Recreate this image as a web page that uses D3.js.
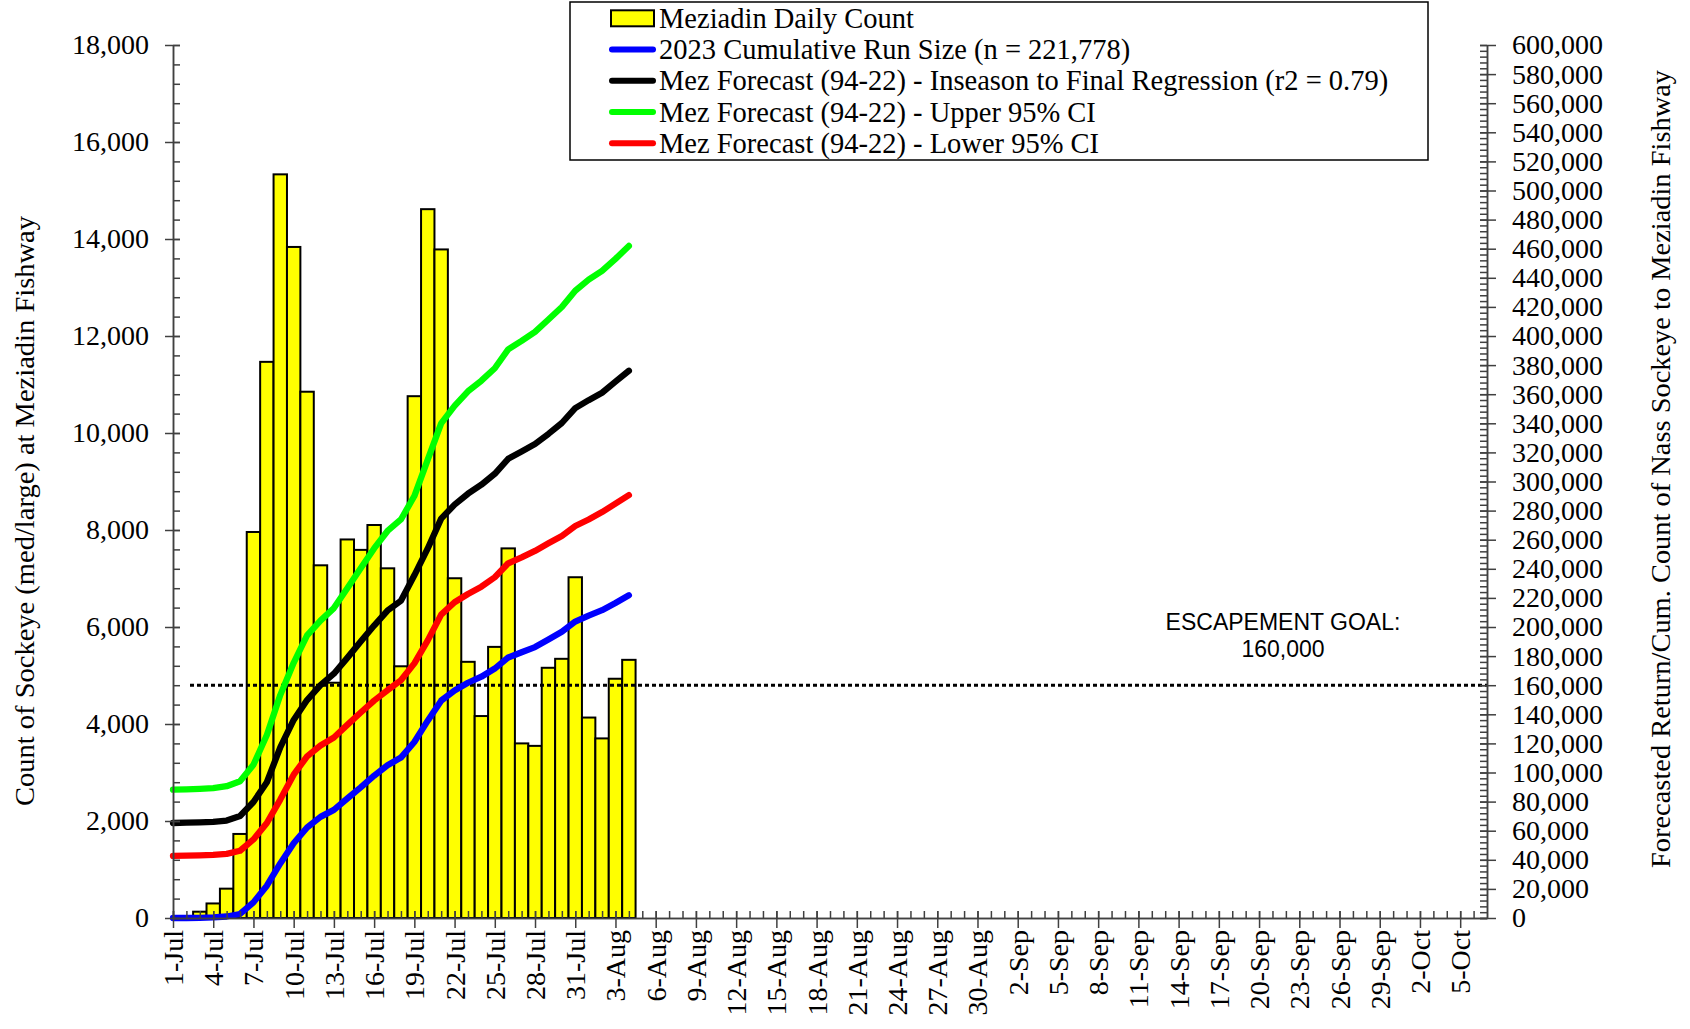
<!DOCTYPE html>
<html>
<head>
<meta charset="utf-8">
<script src="https://cdn.jsdelivr.net/npm/d3@7"></script>
<style>
  html, body { margin: 0; padding: 0; background: #fff; }
  svg { display: block; }
  text { font-family: "Liberation Serif", "Times New Roman", serif; fill: #000; }
</style>
</head>
<body>
<svg id="chart" width="1690" height="1029"></svg>
<script>
// ---------- DATA ----------
const dayLabels = ["1-Jul","2-Jul","3-Jul","4-Jul","5-Jul","6-Jul","7-Jul","8-Jul","9-Jul","10-Jul",
  "11-Jul","12-Jul","13-Jul","14-Jul","15-Jul","16-Jul","17-Jul","18-Jul","19-Jul","20-Jul",
  "21-Jul","22-Jul","23-Jul","24-Jul","25-Jul","26-Jul","27-Jul","28-Jul","29-Jul","30-Jul",
  "31-Jul","1-Aug","2-Aug","3-Aug","4-Aug"];

const dailyCount = [0, 0, 130, 300, 605, 1733, 7959, 11467, 15333, 13836,
  10851, 7272, 4851, 7805, 7590, 8103, 7210, 5190, 10759, 14615,
  13785, 7005, 5282, 4164, 5590, 7621, 3600, 3549, 5159, 5344,
  7026, 4133, 3703, 4933, 5323];

const cumulativeRun = [0, 0, 130, 430, 1035, 2768, 10727, 22194, 37527, 51363,
  62214, 69486, 74337, 82142, 89732, 97835, 105045, 110235, 120994, 135609,
  149394, 156399, 161681, 165845, 171435, 179056, 182656, 186205, 191364, 196708,
  203734, 207867, 211570, 216503, 221778];

const forecastMid = [65300, 65500, 65700, 66000, 67000, 70100, 79700, 93300, 117300, 136100,
  149800, 160000, 167900, 178800, 190100, 201000, 211300, 218100, 235500, 254000,
  274500, 284100, 291600, 297800, 305300, 315600, 320700, 325800, 332700, 340200,
  350400, 355900, 361000, 368600, 376100];

const forecastUpper = [88200, 88400, 88700, 89200, 90600, 94000, 105300, 125800, 153200, 175400,
  194200, 204400, 213000, 226700, 240400, 254000, 266000, 273900, 290000, 315000,
  340000, 352000, 362000, 369300, 377800, 390800, 396600, 402800, 411300, 419900,
  431100, 438700, 444800, 453000, 461900];

const forecastLower = [42700, 42900, 43100, 43400, 44100, 46200, 54000, 65300, 81400, 98500,
  111100, 118600, 124100, 132700, 141200, 149400, 156600, 163400, 175000, 190800,
  208500, 217000, 222700, 227700, 234200, 243800, 247900, 252300, 257500, 262600,
  269400, 273900, 279000, 284800, 290600];

const escapementGoal = 160000;
const leftTicks = [0, 2000, 4000, 6000, 8000, 10000, 12000, 14000, 16000, 18000];
const rightTicks = d3.range(0, 600001, 20000);
const legendLabels = [
  "Meziadin Daily Count",
  "2023 Cumulative Run Size (n = 221,778)",
  "Mez Forecast (94-22) - Inseason to Final Regression (r2 = 0.79)",
  "Mez Forecast (94-22) - Upper 95% CI",
  "Mez Forecast (94-22) - Lower 95% CI"
];

// ---------- SETUP ----------
const svg = d3.select("#chart");
const parse = d3.timeParse("%d-%b-%Y");
const dates = dayLabels.map(s => parse(s + "-2023"));
const startDate = new Date(2023, 6, 1);
const endDate = new Date(2023, 9, 7);

const L = 173, R = 1487, B = 918, T = 45;
const x = d3.scaleTime().domain([startDate, endDate]).range([L, R]);
const yL = d3.scaleLinear().domain([0, 18000]).range([B, T]);
const yR = d3.scaleLinear().domain([0, 600000]).range([B, T]);
const dayW = x(d3.timeDay.offset(startDate, 1)) - x(startDate);
const axisColor = "#404040";

// ---------- BARS ----------
svg.append("g").selectAll("rect")
  .data(dailyCount.map((v, i) => ({ d: dates[i], v })).filter(e => e.v > 0))
  .join("rect")
  .attr("x", e => x(e.d) - dayW / 2)
  .attr("y", e => yL(e.v))
  .attr("width", dayW)
  .attr("height", e => yL(0) - yL(e.v))
  .attr("fill", "#ffff00")
  .attr("stroke", "#000")
  .attr("stroke-width", 2);

// ---------- ESCAPEMENT GOAL ----------
svg.append("line")
  .attr("x1", 190).attr("x2", R)
  .attr("y1", yR(escapementGoal)).attr("y2", yR(escapementGoal))
  .attr("stroke", "#000").attr("stroke-width", 3)
  .attr("stroke-dasharray", "4,3");

svg.append("text").attr("x", 1283).attr("y", 630)
  .attr("text-anchor", "middle")
  .style("font-family", "'Liberation Sans', Arial, sans-serif")
  .style("font-size", "23px").text("ESCAPEMENT GOAL:");
svg.append("text").attr("x", 1283).attr("y", 657)
  .attr("text-anchor", "middle")
  .style("font-family", "'Liberation Sans', Arial, sans-serif")
  .style("font-size", "23px").text(d3.format(",")(escapementGoal));

// ---------- LINES ----------
const lineGen = d3.line().x((v, i) => x(dates[i])).y(v => yR(v));
const series = [
  { vals: forecastLower, color: "#ff0000" },
  { vals: forecastUpper, color: "#00ff00" },
  { vals: forecastMid, color: "#000000" },
  { vals: cumulativeRun, color: "#0000ff" }
];
series.forEach(s => {
  svg.append("path").attr("d", lineGen(s.vals))
    .attr("fill", "none").attr("stroke", s.color)
    .attr("stroke-width", 6.3)
    .attr("stroke-linejoin", "round").attr("stroke-linecap", "round");
});

// ---------- AXES ----------
function styleAxis(g) {
  g.selectAll("path.domain").attr("stroke", axisColor).attr("stroke-width", 1.5);
  g.selectAll(".tick line").attr("stroke", axisColor).attr("stroke-width", 1.5);
}

// left minor ticks (inside)
const gLm = svg.append("g").attr("transform", `translate(${L},0)`)
  .call(d3.axisLeft(yL).tickValues(d3.range(0, 18001, 400)).tickSize(0).tickFormat(""));
gLm.selectAll(".tick line").attr("x1", 0).attr("x2", 7);
styleAxis(gLm);
// left major
const gL = svg.append("g").attr("transform", `translate(${L},0)`)
  .call(d3.axisLeft(yL).tickValues(leftTicks).tickSizeInner(8).tickSizeOuter(0)
    .tickFormat(d3.format(",")));
gL.selectAll(".tick line").attr("x1", 7);
gL.selectAll(".tick text").attr("x", -24).style("font-size", "28px")
  .style("font-family", "'Liberation Serif', serif");
styleAxis(gL);

// right minor ticks (inside)
const gRm = svg.append("g").attr("transform", `translate(${R},0)`)
  .call(d3.axisRight(yR).tickValues(d3.range(0, 600001, 4000)).tickSize(0).tickFormat(""));
gRm.selectAll(".tick line").attr("x1", -7).attr("x2", 0);
styleAxis(gRm);
// right major
const gR = svg.append("g").attr("transform", `translate(${R},0)`)
  .call(d3.axisRight(yR).tickValues(rightTicks).tickSizeInner(9).tickSizeOuter(0)
    .tickFormat(d3.format(",")));
gR.selectAll(".tick line").attr("x1", -7);
gR.selectAll(".tick text").attr("x", 25).style("font-size", "28px")
  .style("font-family", "'Liberation Serif', serif");
styleAxis(gR);

// bottom minor ticks (inside, daily)
const gBm = svg.append("g").attr("transform", `translate(0,${B})`)
  .call(d3.axisBottom(x).tickValues(d3.timeDay.range(startDate, endDate)).tickSize(0).tickFormat(""));
gBm.selectAll(".tick line").attr("y1", 0).attr("y2", -7);
styleAxis(gBm);
// bottom major
const majorDates = d3.timeDay.range(startDate, new Date(2023, 9, 6), 3);
const gB = svg.append("g").attr("transform", `translate(0,${B})`)
  .call(d3.axisBottom(x).tickValues(majorDates).tickSizeInner(10).tickSizeOuter(0)
    .tickFormat(d3.timeFormat("%-d-%b")));
gB.selectAll(".tick line").attr("y1", -7);
gB.selectAll(".tick text")
  .attr("y", 0).attr("x", 0).attr("dy", null)
  .attr("transform", "translate(0,12) rotate(-90)")
  .attr("text-anchor", "end")
  .attr("dominant-baseline", "central")
  .style("font-size", "28px")
  .style("font-family", "'Liberation Serif', serif");
styleAxis(gB);

// ---------- AXIS TITLES ----------
svg.append("text")
  .attr("transform", "translate(24,511) rotate(-90)")
  .attr("text-anchor", "middle").attr("dominant-baseline", "central")
  .style("font-size", "28px")
  .attr("textLength", 590).attr("lengthAdjust", "spacingAndGlyphs")
  .text("Count of Sockeye (med/large) at Meziadin Fishway");

svg.append("text")
  .attr("transform", "translate(1660,469) rotate(-90)")
  .attr("text-anchor", "middle").attr("dominant-baseline", "central")
  .style("font-size", "28px")
  .attr("textLength", 798).attr("lengthAdjust", "spacingAndGlyphs")
  .text("Forecasted Return/Cum. Count of Nass Sockeye to Meziadin Fishway");

// ---------- LEGEND ----------
const lg = svg.append("g");
lg.append("rect").attr("x", 570).attr("y", 2).attr("width", 858).attr("height", 158)
  .attr("fill", "#fff").attr("stroke", "#000").attr("stroke-width", 1.5);
const legendColors = [null, "#0000ff", "#000000", "#00ff00", "#ff0000"];
legendLabels.forEach((lab, i) => {
  const cy = 18.3 + i * 31.25;
  if (i === 0) {
    lg.append("rect").attr("x", 611).attr("y", cy - 8).attr("width", 43).attr("height", 16)
      .attr("fill", "#ffff00").attr("stroke", "#000").attr("stroke-width", 2);
  } else {
    lg.append("line").attr("x1", 612).attr("x2", 653).attr("y1", cy).attr("y2", cy)
      .attr("stroke", legendColors[i]).attr("stroke-width", 6).attr("stroke-linecap", "round");
  }
  lg.append("text").attr("x", 659).attr("y", cy)
    .attr("dominant-baseline", "central")
    .style("font-size", "28.5px").text(lab);
});
</script>
</body>
</html>
